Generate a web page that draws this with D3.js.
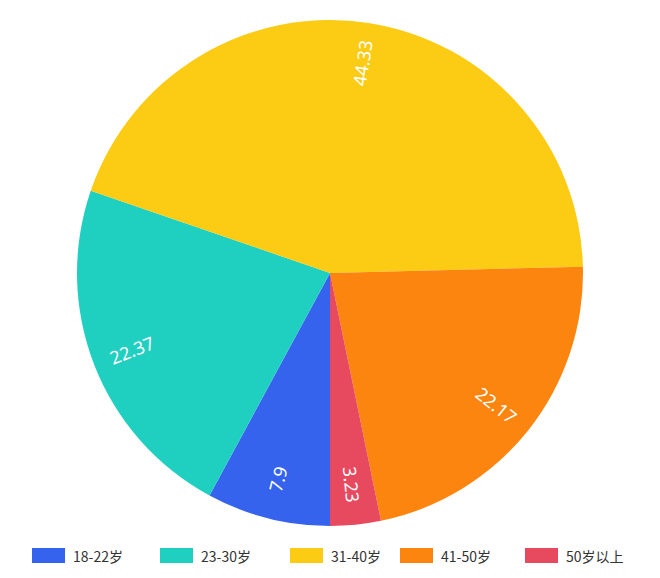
<!DOCTYPE html>
<html><head><meta charset="utf-8">
<script src="https://cdn.jsdelivr.net/npm/d3@7"></script>
<style>body{margin:0;background:#fff}</style></head>
<body><svg id="c" width="660" height="578"></svg>
<script>
const categories = ["18-22岁","23-30岁","31-40岁","41-50岁","50岁以上"];
const values = [7.9,22.37,44.33,22.17,3.23];
const colors = ["#3563ee","#1fd0c0","#fccb14","#fc850f","#e7495f"];
const legendX = [32,160,290,400,525];

const svg = d3.select("#c");
const cx=330, cy=273, r=253;
const g = svg.append("g").attr("transform",`translate(${cx},${cy})`);
const pie = d3.pie().sort(null).startAngle(Math.PI).endAngle(3*Math.PI);
const arcs = pie(values);
const arc = d3.arc().innerRadius(0).outerRadius(r);
g.selectAll("path").data(arcs).join("path").attr("d",arc).attr("fill",(d,i)=>colors[i]);
const lr = r*0.84;
g.selectAll("text").data(arcs).join("text")
 .attr("transform",d=>{
   const a=(d.startAngle+d.endAngle)/2;
   const x=Math.sin(a)*lr, y=-Math.cos(a)*lr;
   let deg=(a*180/Math.PI)%360-90;
   if(deg>90) deg-=180; if(deg<-90) deg+=180;
   return `translate(${x},${y}) rotate(${deg})`;
 })
 .attr("text-anchor","middle").attr("dominant-baseline","central")
 .attr("fill","#fff").attr("font-family","Noto Sans, sans-serif").attr("font-size",18)
 .text((d,i)=>values[i]);
const lg = svg.append("g");
categories.forEach((c,i)=>{
  lg.append("rect").attr("x",legendX[i]).attr("y",548).attr("width",33).attr("height",15).attr("fill",colors[i]);
  lg.append("text").attr("x",legendX[i]+41).attr("y",556).attr("dominant-baseline","central")
    .attr("font-family","Noto Sans CJK SC, sans-serif").attr("font-size",14).attr("fill","#333").text(c);
});
</script></body></html>
